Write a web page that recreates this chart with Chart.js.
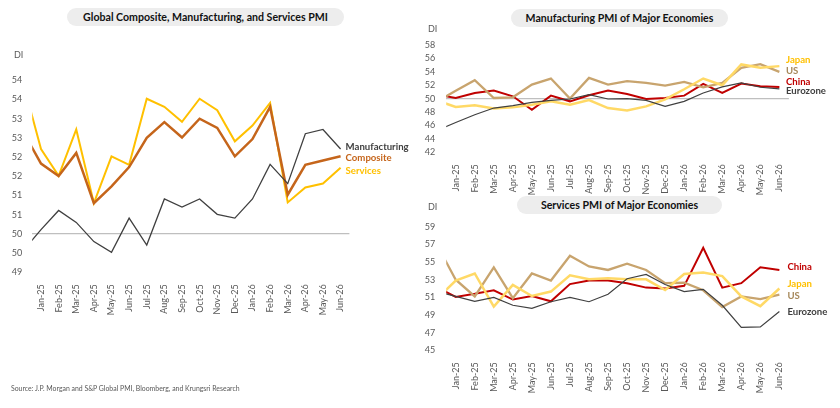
<!DOCTYPE html>
<html><head><meta charset="utf-8">
<script src="https://cdn.jsdelivr.net/npm/chart.js@4.4.1/dist/chart.umd.min.js"></script>
<style>
body{margin:0;width:840px;height:408px;background:#fff;position:relative;overflow:hidden;font-family:Lato,'Liberation Sans',sans-serif;}
canvas{position:absolute;}
.pill{position:absolute;background:#EDEDED;border-radius:9px;font-weight:bold;font-size:10.6px;text-align:center;line-height:18px;height:18px;color:#111;white-space:nowrap;}
.di{position:absolute;font-size:9px;color:#595959;line-height:10px;}
.src{position:absolute;left:11px;top:384px;font-size:6.9px;color:#595959;white-space:nowrap;}
</style></head><body>
<canvas id="c1" width="420" height="408" style="left:0;top:0"></canvas>
<canvas id="c2" width="420" height="200" style="left:420px;top:0"></canvas>
<canvas id="c3" width="420" height="208" style="left:420px;top:200px"></canvas>
<div class="pill" style="left:67px;top:8px;width:277px;">Global Composite, Manufacturing, and Services PMI</div>
<div class="pill" style="left:511px;top:9px;width:217px;">Manufacturing PMI of Major Economies</div>
<div class="pill" style="left:517px;top:196px;width:205px;">Services PMI of Major Economies</div>
<div class="di" style="left:14px;top:50px;">DI</div>
<div class="di" style="left:428px;top:24px;">DI</div>
<div class="di" style="left:428px;top:202px;">DI</div>
<div class="src">Source: J.P. Morgan and S&amp;P Global PMI, Bloomberg, and Krungsri Research</div>
<script>
// Month categories (Dec-24 lies just outside the plotted range)
const months = ['Dec-24','Jan-25','Feb-25','Mar-25','Apr-25','May-25','Jun-25','Jul-25','Aug-25','Sep-25','Oct-25','Nov-25','Dec-25','Jan-26','Feb-26','Mar-26','Apr-26','May-26','Jun-26'];

// Global PMI
const globalManufacturing = [49.57,50.11,50.61,50.30,49.80,49.52,50.41,49.71,50.91,50.70,50.91,50.51,50.41,50.91,51.81,51.31,52.61,52.72,52.21];
const globalComposite     = [52.65,51.83,51.51,52.11,50.80,51.24,51.74,52.50,52.91,52.51,53.00,52.76,52.02,52.47,53.31,51.02,51.80,51.91,52.02];
const globalServices      = [53.91,52.21,51.51,52.72,50.80,52.02,51.80,53.52,53.31,52.92,53.52,53.22,52.41,52.82,53.41,50.82,51.21,51.31,51.72];

// Manufacturing PMI of major economies
const mfgJapan    = [49.75,48.75,49.00,48.55,48.70,49.10,49.60,49.10,49.80,48.60,48.25,48.85,49.90,51.40,53.00,52.00,55.10,54.60,54.85];
const mfgUS       = [49.54,51.16,52.74,50.10,50.20,52.10,53.00,50.00,53.10,52.10,52.60,52.35,51.95,52.50,51.70,52.35,54.60,55.15,54.00];
const mfgChina    = [50.60,50.10,50.85,51.20,50.35,48.35,50.45,49.60,50.50,51.20,50.70,49.95,50.10,50.45,52.20,50.85,52.25,51.85,51.75];
const mfgEurozone = [45.25,46.45,47.60,48.60,48.95,49.45,49.75,49.95,50.60,49.95,50.00,49.75,48.85,49.60,50.85,51.75,52.35,51.70,51.45];

// Services PMI of major economies
const svcChina    = [52.15,51.05,51.40,51.80,50.75,51.15,50.55,52.50,52.90,52.90,52.60,52.10,52.00,52.30,56.60,52.10,52.60,54.40,54.10];
const svcJapan    = [50.80,52.90,53.70,49.95,52.40,51.15,51.65,53.50,53.05,53.15,53.05,53.04,51.83,53.64,53.80,53.40,51.10,50.00,52.00];
const svcUS       = [57.00,53.00,51.10,54.40,50.90,53.70,52.90,55.70,54.50,54.10,54.80,54.10,52.60,52.65,51.80,49.90,51.10,50.80,51.30];
const svcEurozone = [51.66,51.10,50.55,51.00,50.10,49.75,50.50,51.00,50.50,51.35,53.10,53.60,52.45,51.64,51.90,50.10,47.60,47.65,49.40];

const FONT = 'Lato, "Liberation Sans", sans-serif';

const endLabels = {
  id: 'endLabels',
  afterDatasetsDraw(chart) {
    const ctx = chart.ctx;
    ctx.save();
    ctx.font = 'bold 9.6px ' + FONT;
    ctx.textBaseline = 'middle';
    ctx.textAlign = 'left';
    chart.data.datasets.forEach((ds, i) => {
      const meta = chart.getDatasetMeta(i);
      const pt = meta.data[meta.data.length - 1];
      ctx.fillStyle = ds.labelColor;
      ctx.fillText(ds.label, pt.x + ds.labelDx, pt.y + ds.labelDy);
    });
    ctx.restore();
  }
};

function makeChart(id, cfg) {
  new Chart(document.getElementById(id), {
    type: 'line',
    data: {
      datasets: cfg.series.map(s => ({
        label: s.name,
        data: s.values.map((v, i) => ({x: i, y: v})),
        borderColor: s.color,
        borderWidth: s.width,
        pointRadius: 0,
        tension: 0,
        clip: 0,
        labelColor: s.labelColor,
        labelDx: s.dx,
        labelDy: s.dy
      }))
    },
    options: {
      responsive: false,
      animation: false,
      layout: {padding: {left: 0, top: cfg.top, right: cfg.right, bottom: cfg.bottom}},
      plugins: {legend: {display: false}, tooltip: {enabled: false}},
      scales: {
        x: {
          type: 'linear', min: 0.5, max: 18.5,
          afterBuildTicks: s => { s.ticks = months.slice(1).map((m, i) => ({value: i + 1})); },
          afterFit: s => { s.height = cfg.xh; },
          grid: {display: false},
          border: {display: false},
          ticks: {autoSkip: false, maxRotation: 90, minRotation: 90, padding: 4, color: '#595959',
                  font: {family: FONT, size: 9}, callback: v => months[v]}
        },
        y: {
          min: cfg.ymin, max: cfg.ymax,
          afterFit: s => { s.width = cfg.yw; },
          grid: {drawTicks: false, lineWidth: 1.3, color: c => (c.tick && c.tick.value === 50) ? '#BFBFBF' : 'rgba(0,0,0,0)'},
          border: {display: false},
          ticks: {autoSkip: false, stepSize: cfg.step, padding: cfg.ypad, color: '#595959', font: {family: FONT, size: 9},
                  callback: v => cfg.fmt(v)}
        }
      }
    },
    plugins: [endLabels]
  });
}

makeChart('c1', {
  top: 80.3, right: 70.6, bottom: 35.7, xh: 100, yw: 32.2, ypad: 10,
  ymin: 49, ymax: 54, step: 0.5, fmt: v => String(Math.round(v)),
  series: [
    {name: 'Manufacturing', values: globalManufacturing, color: '#404040', width: 1.3, labelColor: '#404040', dx: 5, dy: -2},
    {name: 'Composite', values: globalComposite, color: '#C5651B', width: 2.5, labelColor: '#C5651B', dx: 5, dy: 1.7},
    {name: 'Services', values: globalServices, color: '#FFC000', width: 2, labelColor: '#FFC000', dx: 5, dy: 2.6}
  ]
});

makeChart('c2', {
  top: 45, right: 51.1, bottom: 3.7, xh: 44, yw: 26.2, ypad: 11,
  ymin: 42, ymax: 58, step: 2, fmt: v => String(v),
  series: [
    {name: 'Eurozone', values: mfgEurozone, color: '#404040', width: 1.2, labelColor: '#404040', dx: 6.6, dy: 2.4},
    {name: 'Japan', values: mfgJapan, color: '#FFD966', width: 2.5, labelColor: '#FFC000', dx: 6.6, dy: -6.3},
    {name: 'US', values: mfgUS, color: '#C8A46E', width: 2.3, labelColor: '#A6885A', dx: 6.6, dy: -1.3},
    {name: 'China', values: mfgChina, color: '#C00000', width: 2, labelColor: '#C00000', dx: 6.6, dy: -4.6}
  ]
});

makeChart('c3', {
  top: 26.7, right: 51.1, bottom: 7.7, xh: 50, yw: 26.2, ypad: 11,
  ymin: 45, ymax: 59, step: 2, fmt: v => String(v),
  series: [
    {name: 'Eurozone', values: svcEurozone, color: '#404040', width: 1.2, labelColor: '#404040', dx: 8, dy: 0.7},
    {name: 'Japan', values: svcJapan, color: '#FFD966', width: 2.5, labelColor: '#FFC000', dx: 8, dy: -4.2},
    {name: 'US', values: svcUS, color: '#C8A46E', width: 2.3, labelColor: '#A6885A', dx: 8, dy: 1.3},
    {name: 'China', values: svcChina, color: '#C00000', width: 2, labelColor: '#C00000', dx: 8, dy: -2.6}
  ]
});
</script>
</body></html>
